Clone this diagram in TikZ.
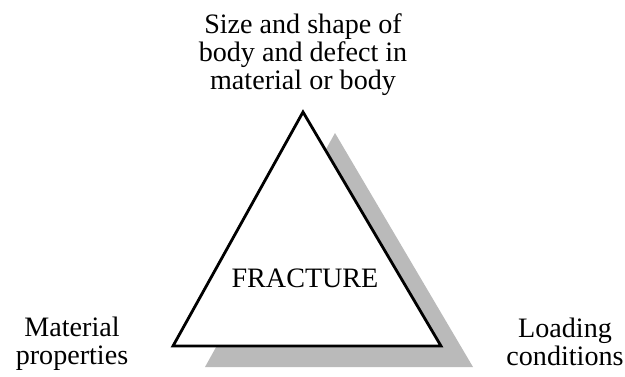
\documentclass[tikz,border=0pt]{standalone}
\usepackage{fontspec}
\setmainfont{Liberation Serif}
\usepackage{tikz}
\usetikzlibrary{positioning}
\tikzset{
    frac label/.style={
        align=center,
        inner sep=0pt,
        font=\fontsize{16pt}{16pt}\selectfont
    },
    frac edge/.style={draw=black, line width=1.6pt, line join=miter},
    frac shadow/.style={fill=black!27, draw=none}
}

\begin{document}
\begin{tikzpicture}[x=0.02cm, y=-0.02cm]
\useasboundingbox (0,0) rectangle (625,376);
% corners of the triangle
\coordinate (top) at (303,112);
\coordinate (left) at (173,346);
\coordinate (right) at (441,346);

% shadow, then the triangle on top
\fill[frac shadow] ([shift={(32,21)}]top) -- ([shift={(32,21)}]left) -- ([shift={(32,21)}]right) -- cycle;
\filldraw[frac edge, fill=white] (top) -- (left) -- (right) -- cycle;

% labels
\node[frac label] (core) at (305,287) [anchor=base] {FRACTURE};
\node[frac label, anchor=north] (geom) at (303,13) {Size and shape of\\body and defect in\\material or body};
\node[frac label, anchor=north] (matl) at (72,317) {Material\\properties};
\node[frac label, anchor=north] (load) at (565,318) {Loading\\conditions};
\end{tikzpicture}
\end{document}
